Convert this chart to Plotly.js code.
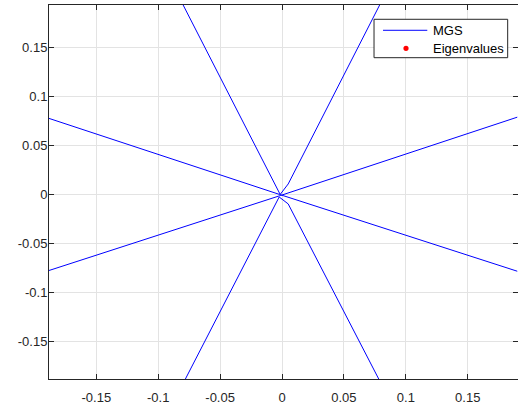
<!DOCTYPE html>
<html>
<head>
<meta charset="utf-8">
<script src="https://cdn.plot.ly/plotly-3.0.1.min.js"></script>
<style>html,body{margin:0;padding:0;overflow:hidden;background:#fff;}</style>
</head>
<body>
<div id="chart"></div>
<script>
const branchFallX = [-0.19, -0.002, 0.19];
const branchFallY = [0.0785, 0.0, -0.0785];
const branchRiseX = [-0.19, -0.001, 0.19];
const branchRiseY = [-0.0785, -0.001, 0.079];
const branchUpX = [-0.082, -0.0015, 0.005, 0.081];
const branchUpY = [0.199, 0.0, 0.0107, 0.199];
const branchDownX = [-0.0806, -0.0023, 0.005, 0.0807];
const branchDownY = [-0.195, -0.0026, -0.0097, -0.195];

// Eigenvalues: none fall inside the visible window
const eigX = [null];
const eigY = [null];

const tickVals = [-0.15, -0.1, -0.05, 0, 0.05, 0.1, 0.15];
const tickText = ['-0.15', '-0.1', '-0.05', '0', '0.05', '0.1', '0.15'];
const legendNames = ['MGS', 'Eigenvalues'];

function joinBranches(list) {
  const out = [];
  list.forEach((b, i) => { if (i) out.push(null); b.forEach(v => out.push(v)); });
  return out;
}
const mgsX = joinBranches([branchFallX, branchRiseX, branchUpX, branchDownX]);
const mgsY = joinBranches([branchFallY, branchRiseY, branchUpY, branchDownY]);

const fontFamily = '"Liberation Sans", Arial, Helvetica, sans-serif';
const font = {family: fontFamily, size: 13, color: '#262626'};
const lineColor = '#0000ff';
const dotColor = '#ff0000';

const traces = [
  {x: mgsX, y: mgsY, type: 'scatter', mode: 'lines', name: legendNames[0],
   line: {color: lineColor, width: 1}, connectgaps: false, showlegend: false},
  {x: eigX, y: eigY, type: 'scatter', mode: 'markers', name: legendNames[1],
   marker: {color: dotColor, size: 6}, showlegend: false}
];

const axisCommon = {
  tickvals: tickVals, ticktext: tickText,
  showgrid: true, gridcolor: '#e3e3e3', gridwidth: 1,
  zeroline: false, showline: true, linecolor: '#262626', linewidth: 1,
  mirror: 'allticks', ticks: 'inside', ticklen: 5, tickcolor: '#262626',
  tickfont: font
};

// legend box drawn in paper coordinates (MATLAB-style legend)
const lg = {x0: 0.6930, x1: 0.9780, y0: 0.8591, y1: 0.9618,
            sx0: 0.7122, sx1: 0.8066, symX: 0.7612, textX: 0.8145,
            row1: 0.9324, row2: 0.8842};

const shapes = [
  {type: 'rect', xref: 'paper', yref: 'paper', x0: lg.x0, x1: lg.x1, y0: lg.y0, y1: lg.y1,
   fillcolor: '#ffffff', line: {color: '#262626', width: 1}, layer: 'above'},
  {type: 'line', xref: 'paper', yref: 'paper', x0: lg.sx0, x1: lg.sx1, y0: lg.row1, y1: lg.row1,
   line: {color: lineColor, width: 1}, layer: 'above'},
  {type: 'circle', xref: 'paper', yref: 'paper', xsizemode: 'pixel', ysizemode: 'pixel',
   xanchor: lg.symX, yanchor: lg.row2, x0: -2.6, x1: 2.6, y0: -2.6, y1: 2.6,
   fillcolor: dotColor, line: {color: dotColor, width: 0}, layer: 'above'}
];

const annotations = [
  {xref: 'paper', yref: 'paper', x: lg.textX, y: lg.row1, xanchor: 'left', yanchor: 'middle',
   text: legendNames[0], showarrow: false, font: {family: fontFamily, size: 13, color: '#000000'}},
  {xref: 'paper', yref: 'paper', x: lg.textX, y: lg.row2, xanchor: 'left', yanchor: 'middle',
   text: legendNames[1], showarrow: false, font: {family: fontFamily, size: 13, color: '#000000'}}
];

const layout = {
  width: 518, height: 409,
  margin: {l: 49, r: 0, t: 5, b: 30},
  paper_bgcolor: '#ffffff', plot_bgcolor: '#ffffff',
  font: font,
  xaxis: Object.assign({}, axisCommon, {range: [-0.1882, 0.1906], ticklabelstandoff: 6}),
  yaxis: Object.assign({}, axisCommon, {range: [-0.1887, 0.1937], ticklabelstandoff: -2}),
  showlegend: false,
  shapes: shapes,
  annotations: annotations
};

Plotly.newPlot('chart', traces, layout, {staticPlot: true, displayModeBar: false});
</script>
</body>
</html>
